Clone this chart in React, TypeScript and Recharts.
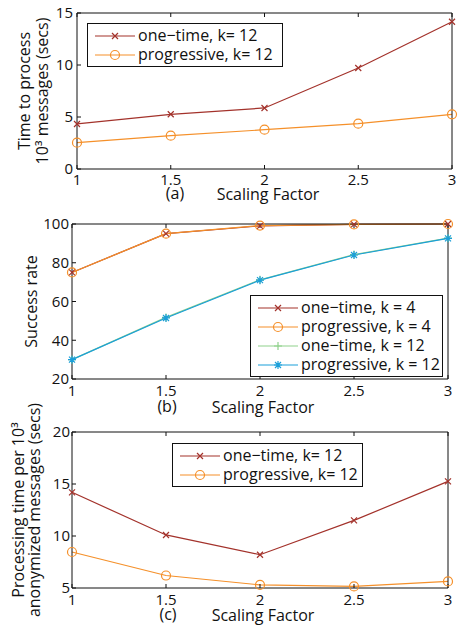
import React from "react";
import { LineChart, Line, XAxis, YAxis, Legend } from "recharts";

// scaling factors on the x axis of all three panels
const scalingFactors = [1, 1.5, 2, 2.5, 3];
const xTicks = [1, 1.5, 2, 2.5, 3];

// (a) time to process 10^3 messages
const timeOneTime = [4.33, 5.26, 5.87, 9.71, 14.16];
const timeProgressive = [2.53, 3.2, 3.78, 4.36, 5.26];
const timeTicks = [0, 5, 10, 15];

// (b) success rate
const successOneTimeK4 = [75, 95, 99, 99.8, 100];
const successProgressiveK4 = [75, 95, 99.2, 99.8, 100];
const successOneTimeK12 = [30, 51.8, 71.2, 84.2, 92.7];
const successProgressiveK12 = [30, 51.5, 71, 84, 92.6];
const successTicks = [20, 40, 60, 80, 100];

// (c) processing time per 10^3 anonymized messages
const perMsgOneTime = [14.2, 10.1, 8.2, 11.5, 15.25];
const perMsgProgressive = [8.46, 6.2, 5.3, 5.15, 5.63];
const perMsgTicks = [5, 10, 15, 20];

const FONT = "'Open Sans', sans-serif";
const RED = "#a3322b";
const ORANGE = "#f5902a";
const GREEN = "#8fd18b";
const BLUE = "#1b9fd9";

type Shape = "x" | "o" | "+" | "*";

const Marker = ({ cx, cy, color, shape }: { cx: number; cy: number; color: string; shape: Shape }) => {
  if (cx == null || cy == null) return null;
  if (shape === "o") return <circle cx={cx} cy={cy} r={4.5} fill="none" stroke={color} strokeWidth={1.2} />;
  const s = 3;
  const xPath = `M${cx - s},${cy - s}L${cx + s},${cy + s}M${cx - s},${cy + s}L${cx + s},${cy - s}`;
  const pPath = `M${cx - 4},${cy}L${cx + 4},${cy}M${cx},${cy - 4}L${cx},${cy + 4}`;
  const d = shape === "x" ? xPath : shape === "+" ? pPath : xPath + pPath;
  return <path d={d} stroke={color} strokeWidth={1.2} fill="none" />;
};

const dotFor = (shape: Shape, color: string) => (p: any) => (
  <Marker key={`m-${p.index}`} cx={p.cx} cy={p.cy} shape={shape} color={color} />
);

// custom boxed legend, keeps series order, markers looked up by dataKey
const makeLegend = (order: string[], shapes: Record<string, Shape>) => (props: any) => {
  const payload = [...(props.payload || [])].sort(
    (a: any, b: any) => order.indexOf(a.dataKey) - order.indexOf(b.dataKey)
  );
  return (
    <div
      style={{
        border: "1.5px solid #111",
        background: "#fff",
        padding: "2px 6px 2px 7px",
        fontFamily: FONT,
        fontSize: 16,
        lineHeight: "19px",
        color: "#111",
      }}
    >
      {payload.map((e: any) => (
        <div key={e.value} style={{ display: "flex", alignItems: "center", whiteSpace: "nowrap" }}>
          <svg width={40} height={19} style={{ flex: "none" }}>
            <line x1={0} y1={10} x2={40} y2={10} stroke={e.color} strokeWidth={1.2} />
            <Marker cx={20} cy={10} color={e.color} shape={shapes[e.dataKey]} />
          </svg>
          <span style={{ marginLeft: 3 }}>{e.value}</span>
        </div>
      ))}
    </div>
  );
};

const yLabel = (lines: { text: React.ReactNode; x: number }[]) => (props: any) => {
  const vb = props.viewBox || {};
  const cy = vb.y + vb.height / 2;
  return (
    <g>
      {lines.map((l, i) => (
        <text
          key={i}
          x={l.x}
          y={cy}
          transform={`rotate(-90, ${l.x}, ${cy})`}
          textAnchor="middle"
          fontFamily={FONT}
          fontSize={16}
          fill="#111"
        >
          {l.text}
        </text>
      ))}
    </g>
  );
};

const xLabel = (tag: string, tagX: number, tagDy: number, titleX: number, titleDy: number) => (props: any) => {
  const vb = props.viewBox || {};
  return (
    <g fontFamily={FONT} fontSize={16} fill="#111">
      <text x={tagX} y={vb.y + tagDy} textAnchor="middle">{tag}</text>
      <text x={titleX} y={vb.y + titleDy} textAnchor="middle">Scaling Factor</text>
    </g>
  );
};

const tickStyle = { fill: "#111", fontSize: 15, fontFamily: FONT };
const blank = () => "";

const tableA = scalingFactors.map((x, i) => ({ x, oneTime: timeOneTime[i], progressive: timeProgressive[i] }));
const tableB = scalingFactors.map((x, i) => ({
  x,
  oneTimeK4: successOneTimeK4[i],
  progressiveK4: successProgressiveK4[i],
  oneTimeK12: successOneTimeK12[i],
  progressiveK12: successProgressiveK12[i],
}));
const tableC = scalingFactors.map((x, i) => ({ x, oneTime: perMsgOneTime[i], progressive: perMsgProgressive[i] }));

const boxAxes = (domain: number[], ticks: number[]) => [
  <XAxis key="top" xAxisId="top" orientation="top" dataKey="x" type="number" domain={[1, 3]} ticks={xTicks}
    height={1} tickSize={-4} tickFormatter={blank} stroke="#111" />,
  <YAxis key="right" yAxisId="right" orientation="right" type="number" domain={domain} ticks={ticks}
    width={1} tickSize={-4} tickFormatter={blank} stroke="#111" />,
];

export default function App() {
  return (
    <div style={{ position: "absolute", left: 0, top: 0, width: 464, height: 626, background: "#fff" }}>
      {/* (a) */}
      <div style={{ position: "absolute", left: 0, top: 0 }}>
        <LineChart width={464} height={205} data={tableA} margin={{ top: 12, right: 11, bottom: 6, left: 37 }}>
          <XAxis dataKey="x" type="number" domain={[1, 3]} ticks={xTicks} height={30} tickSize={-4} tickMargin={9}
            tick={tickStyle} stroke="#111" label={{ content: xLabel("(a)", 175, 30, 268, 31) }} />
          <YAxis type="number" domain={[0, 15]} ticks={timeTicks} width={40} tickSize={-4} tickMargin={8}
            tick={tickStyle} stroke="#111"
            label={{ content: yLabel([{ text: "Time to process", x: 30 }, { text: "10³ messages (secs)", x: 48 }]) }} />
          {boxAxes([0, 15], timeTicks)}
          <Line dataKey="oneTime" name="one−time, k= 12" stroke={RED} strokeWidth={1.2} dot={dotFor("x", RED)}
            activeDot={false} isAnimationActive={false} />
          <Line dataKey="progressive" name="progressive, k= 12" stroke={ORANGE} strokeWidth={1.2}
            dot={dotFor("o", ORANGE)} activeDot={false} isAnimationActive={false} />
          <Legend layout="vertical" align="center" verticalAlign="middle"
            wrapperStyle={{ left: 87, top: 23, width: 196 }}
            content={makeLegend(["oneTime", "progressive"], { oneTime: "x", progressive: "o" })} />
        </LineChart>
      </div>

      {/* (b) */}
      <div style={{ position: "absolute", left: 0, top: 205 }}>
        <LineChart width={464} height={215} data={tableB} margin={{ top: 18, right: 15, bottom: 11, left: 32 }}>
          <XAxis dataKey="x" type="number" domain={[1, 3]} ticks={xTicks} height={30} tickSize={-4} tickMargin={10}
            tick={tickStyle} stroke="#111" label={{ content: xLabel("(b)", 167, 33, 263, 34) }} />
          <YAxis type="number" domain={[20, 100]} ticks={successTicks} width={40} tickSize={-4} tickMargin={7}
            tick={tickStyle} stroke="#111" label={{ content: yLabel([{ text: "Success rate", x: 37 }]) }} />
          {boxAxes([20, 100], successTicks)}
          <Line dataKey="oneTimeK4" name="one−time, k = 4" stroke={RED} strokeWidth={1.2} dot={dotFor("x", RED)}
            activeDot={false} isAnimationActive={false} />
          <Line dataKey="progressiveK4" name="progressive, k = 4" stroke={ORANGE} strokeWidth={1.2}
            dot={dotFor("o", ORANGE)} activeDot={false} isAnimationActive={false} />
          <Line dataKey="oneTimeK12" name="one−time, k = 12" stroke={GREEN} strokeWidth={1.2}
            dot={dotFor("+", GREEN)} activeDot={false} isAnimationActive={false} />
          <Line dataKey="progressiveK12" name="progressive, k = 12" stroke={BLUE} strokeWidth={1.2}
            dot={dotFor("*", BLUE)} activeDot={false} isAnimationActive={false} />
          <Legend layout="vertical" align="center" verticalAlign="middle"
            wrapperStyle={{ left: 250, top: 90, width: 193 }}
            content={makeLegend(
              ["oneTimeK4", "progressiveK4", "oneTimeK12", "progressiveK12"],
              { oneTimeK4: "x", progressiveK4: "o", oneTimeK12: "+", progressiveK12: "*" }
            )} />
        </LineChart>
      </div>

      {/* (c) */}
      <div style={{ position: "absolute", left: 0, top: 390 }}>
        <LineChart width={464} height={236} data={tableC} margin={{ top: 41, right: 15, bottom: 8, left: 32 }}>
          <XAxis dataKey="x" type="number" domain={[1, 3]} ticks={xTicks} height={30} tickSize={-4} tickMargin={10}
            tick={tickStyle} stroke="#111" label={{ content: xLabel("(c)", 168, 32, 263, 33) }} />
          <YAxis type="number" domain={[5, 20]} ticks={perMsgTicks} width={40} tickSize={-4} tickMargin={6}
            tick={tickStyle} stroke="#111"
            label={{ content: yLabel([{ text: "Processing time per 10³", x: 24 }, { text: "anonymized messages (secs)", x: 40 }]) }} />
          {boxAxes([5, 20], perMsgTicks)}
          <Line dataKey="oneTime" name="one−time, k= 12" stroke={RED} strokeWidth={1.2} dot={dotFor("x", RED)}
            activeDot={false} isAnimationActive={false} />
          <Line dataKey="progressive" name="progressive, k= 12" stroke={ORANGE} strokeWidth={1.2}
            dot={dotFor("o", ORANGE)} activeDot={false} isAnimationActive={false} />
          <Legend layout="vertical" align="center" verticalAlign="middle"
            wrapperStyle={{ left: 172, top: 53, width: 191 }}
            content={makeLegend(["oneTime", "progressive"], { oneTime: "x", progressive: "o" })} />
        </LineChart>
      </div>
    </div>
  );
}
